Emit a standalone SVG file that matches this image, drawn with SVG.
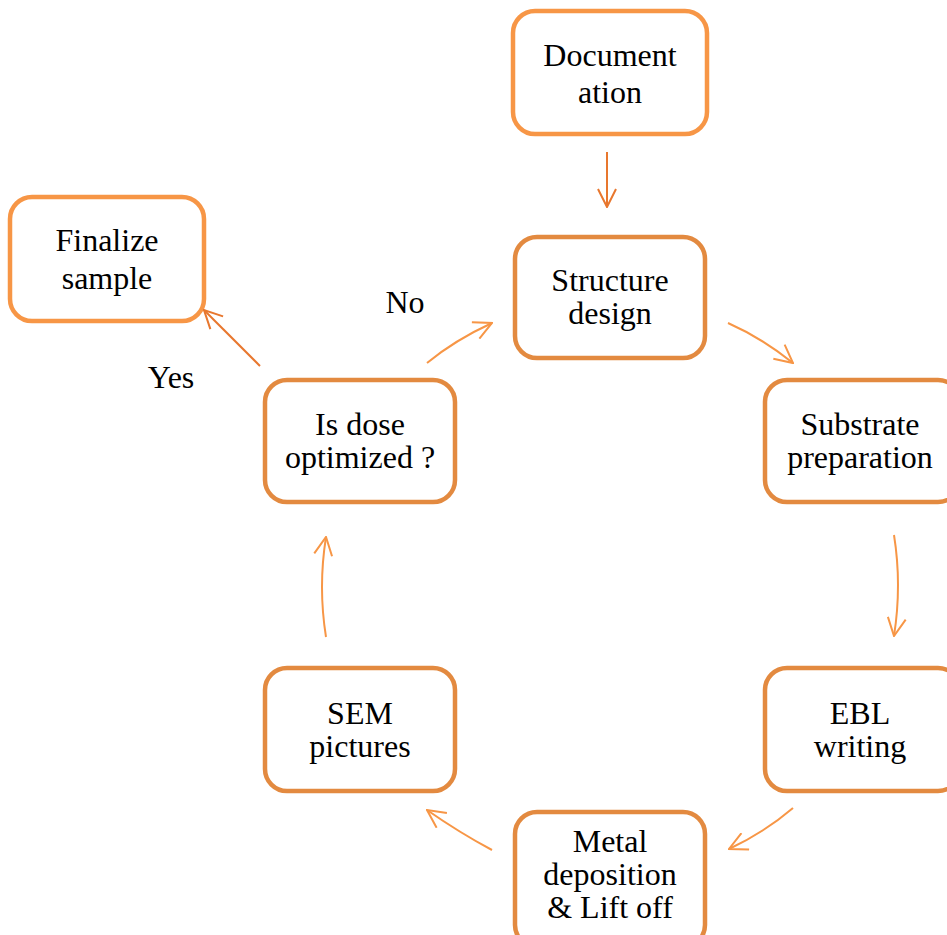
<svg xmlns="http://www.w3.org/2000/svg" width="947" height="935" viewBox="0 0 947 935" font-family="Liberation Serif">
<defs>
<marker id="ah" viewBox="0 0 20 20" refX="19" refY="10" markerWidth="20" markerHeight="20" markerUnits="userSpaceOnUse" orient="auto">
<path d="M1,1 L19,10 L1,19" fill="none" stroke="#F79646" stroke-width="2"/>
</marker>
<marker id="ahd" viewBox="0 0 20 20" refX="19" refY="10" markerWidth="20" markerHeight="20" markerUnits="userSpaceOnUse" orient="auto">
<path d="M1,1 L19,10 L1,19" fill="none" stroke="#E8772E" stroke-width="2"/>
</marker>
</defs>
<rect width="947" height="935" fill="#fff"/>
<g id="documentation"><rect x="513" y="11" width="194" height="123" rx="22" fill="#fff" stroke="#F79646" stroke-width="4.5"/>
<text x="610" y="66" font-family="Liberation Serif" font-size="32" text-anchor="middle">Document</text>
<text x="610" y="103" font-family="Liberation Serif" font-size="32" text-anchor="middle">ation</text></g>
<g id="finalize"><rect x="10" y="197" width="194" height="124" rx="22" fill="#fff" stroke="#F79646" stroke-width="4.5"/>
<text x="107" y="251" font-family="Liberation Serif" font-size="32" text-anchor="middle">Finalize</text>
<text x="107" y="289" font-family="Liberation Serif" font-size="32" text-anchor="middle">sample</text></g>
<g id="structure"><rect x="515" y="237" width="190" height="121" rx="22" fill="#fff" stroke="#E38A40" stroke-width="4.5"/>
<text x="610" y="291" font-family="Liberation Serif" font-size="32" text-anchor="middle">Structure</text>
<text x="610" y="324" font-family="Liberation Serif" font-size="32" text-anchor="middle">design</text></g>
<g id="substrate"><rect x="765" y="380" width="195" height="122" rx="22" fill="#fff" stroke="#E38A40" stroke-width="4.5"/>
<text x="860" y="435" font-family="Liberation Serif" font-size="32" text-anchor="middle">Substrate</text>
<text x="860" y="468" font-family="Liberation Serif" font-size="32" text-anchor="middle">preparation</text></g>
<g id="dose"><rect x="265" y="380" width="190" height="122" rx="22" fill="#fff" stroke="#E38A40" stroke-width="4.5"/>
<text x="360" y="435" font-family="Liberation Serif" font-size="32" text-anchor="middle">Is dose</text>
<text x="360" y="468" font-family="Liberation Serif" font-size="32" text-anchor="middle">optimized ?</text></g>
<g id="sem"><rect x="265" y="668" width="190" height="123" rx="22" fill="#fff" stroke="#E38A40" stroke-width="4.5"/>
<text x="360" y="724" font-family="Liberation Serif" font-size="32" text-anchor="middle">SEM</text>
<text x="360" y="757" font-family="Liberation Serif" font-size="32" text-anchor="middle">pictures</text></g>
<g id="ebl"><rect x="765" y="668" width="195" height="123" rx="22" fill="#fff" stroke="#E38A40" stroke-width="4.5"/>
<text x="860" y="724" font-family="Liberation Serif" font-size="32" text-anchor="middle">EBL</text>
<text x="860" y="757" font-family="Liberation Serif" font-size="32" text-anchor="middle">writing</text></g>
<g id="metal"><rect x="515" y="812" width="190" height="135" rx="22" fill="#fff" stroke="#E38A40" stroke-width="4.5"/>
<text x="610" y="852" font-family="Liberation Serif" font-size="32" text-anchor="middle">Metal</text>
<text x="610" y="885" font-family="Liberation Serif" font-size="32" text-anchor="middle">deposition</text>
<text x="610" y="918" font-family="Liberation Serif" font-size="32" text-anchor="middle">&amp; Lift off</text></g>
<g id="connectors" fill="none" stroke-width="2">
<path stroke="#E8772E" d="M607,152 L607,207" marker-end="url(#ahd)"/>
<path stroke="#E8772E" d="M260,366 L204,310" marker-end="url(#ahd)"/>
<path stroke="#F79646" d="M427,363 Q455,340 492,323" marker-end="url(#ah)"/>
<path stroke="#F79646" d="M728,323 Q762,338 793,363" marker-end="url(#ah)"/>
<path stroke="#F79646" d="M894,535 Q902,585 894,636" marker-end="url(#ah)"/>
<path stroke="#F79646" d="M793,808 Q765,832 729,849" marker-end="url(#ah)"/>
<path stroke="#F79646" d="M492,850 Q460,833 427,810" marker-end="url(#ah)"/>
<path stroke="#F79646" d="M326,637 Q318,587 326,537" marker-end="url(#ah)"/>
</g>
<text x="405" y="313" font-family="Liberation Serif" font-size="32" text-anchor="middle">No</text>
<text x="171" y="388" font-family="Liberation Serif" font-size="32" text-anchor="middle">Yes</text>
</svg>
